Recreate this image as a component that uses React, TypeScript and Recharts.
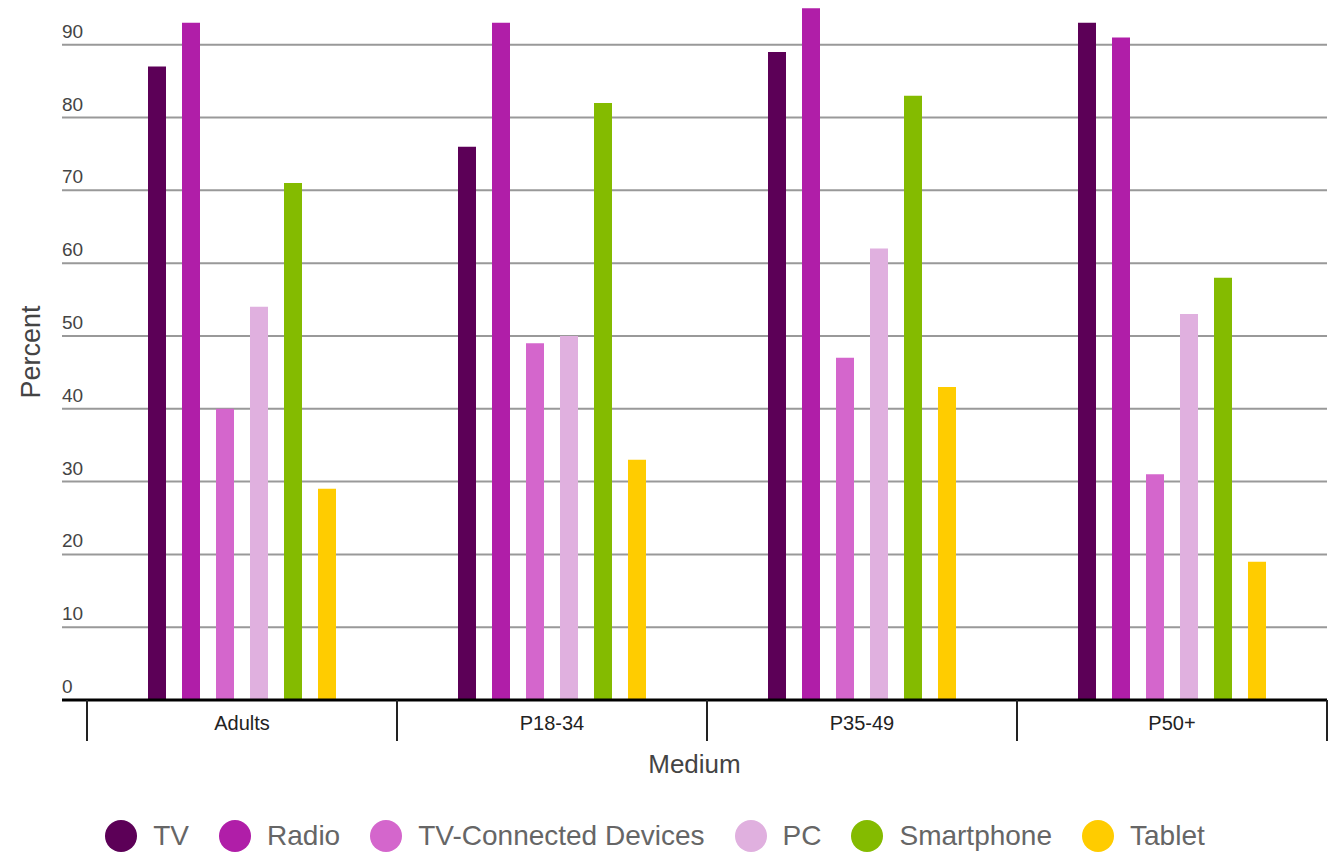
import { BarChart, Bar, XAxis, YAxis, CartesianGrid, Label } from "recharts";

// Categories and series values (percent)
const groups = ["Adults", "P18-34", "P35-49", "P50+"];
const tv = [87, 76, 89, 93];
const radio = [93, 93, 95, 91];
const tvDevices = [40, 49, 47, 31];
const pc = [54, 50, 62, 53];
const smartphone = [71, 82, 83, 58];
const tablet = [29, 33, 43, 19];
const yTicks = [0, 10, 20, 30, 40, 50, 60, 70, 80, 90];
const yMax = 96;

const series = [
  { key: "tv", name: "TV", color: "#5c0057", values: tv },
  { key: "radio", name: "Radio", color: "#b01ea8", values: radio },
  { key: "tvDevices", name: "TV-Connected Devices", color: "#d466cc", values: tvDevices },
  { key: "pc", name: "PC", color: "#e0b0df", values: pc },
  { key: "smartphone", name: "Smartphone", color: "#84bb00", values: smartphone },
  { key: "tablet", name: "Tablet", color: "#ffcc00", values: tablet },
];

const data = groups.map((g, i) => {
  const row: any = { group: g };
  series.forEach((s) => (row[s.key] = s.values[i]));
  return row;
});

const W = 1334;
const H = 857;
const LEFT = 62;
const RIGHT = 7;
const PAD_LEFT = 25;
const FONT = "Arial, 'Liberation Sans', sans-serif";
const bandWidth = (W - LEFT - RIGHT - PAD_LEFT) / groups.length;

// grid rows only at the labelled ticks (no line at the top edge)
function gridRows({ yAxis, offset }: any) {
  if (yAxis && typeof yAxis.scale === "function") return yTicks.map((t) => yAxis.scale(t));
  return yTicks.map((t) => offset.top + offset.height * (1 - t / yMax));
}

function YTick({ x, y, payload }: any) {
  return (
    <text x={x} y={y - 7} textAnchor="start" fontSize={19} fill="#444" fontFamily={FONT}>
      {payload.value}
    </text>
  );
}

function XTick({ x, y, payload, index }: any) {
  const left = x - bandWidth / 2;
  const right = x + bandWidth / 2;
  return (
    <g>
      <line x1={left} x2={left} y1={y} y2={y + 41} stroke="#222" strokeWidth={2} />
      {index === groups.length - 1 && (
        <line x1={right} x2={right} y1={y} y2={y + 41} stroke="#222" strokeWidth={2} />
      )}
      <text x={x} y={y + 30} textAnchor="middle" fontSize={20} fill="#222" fontFamily={FONT}>
        {payload.value}
      </text>
    </g>
  );
}

function PercentLabel() {
  return (
    <text
      x={40}
      y={352}
      transform="rotate(-90 40 352)"
      textAnchor="middle"
      fontSize={27}
      fill="#444"
      fontFamily={FONT}
    >
      Percent
    </text>
  );
}

export default function App() {
  return (
    <div style={{ position: "absolute", left: 0, top: 0, width: W, height: H, background: "#fff" }}>
      <BarChart
        width={W}
        height={H}
        data={data}
        margin={{ top: 1, right: RIGHT, left: 0, bottom: 0 }}
        barSize={18}
        barGap={16}
      >
        <CartesianGrid
          vertical={false}
          stroke="#999"
          strokeWidth={2}
          horizontalCoordinatesGenerator={gridRows}
        />
        <YAxis
          width={LEFT}
          domain={[0, yMax]}
          ticks={yTicks}
          allowDataOverflow
          axisLine={false}
          tickLine={false}
          tickSize={0}
          tickMargin={0}
          tick={<YTick />}
        >
          <Label content={<PercentLabel />} />
        </YAxis>
        <XAxis
          dataKey="group"
          height={157}
          padding={{ left: PAD_LEFT, right: 0 }}
          axisLine={{ stroke: "#000", strokeWidth: 3 }}
          tickLine={false}
          tickSize={0}
          tickMargin={0}
          interval={0}
          tick={<XTick />}
        >
          <Label
            value="Medium"
            position="insideTop"
            offset={55}
            fontSize={26}
            fill="#444"
            fontFamily={FONT}
          />
        </XAxis>
        {series.map((s) => (
          <Bar key={s.key} dataKey={s.key} name={s.name} fill={s.color} isAnimationActive={false} />
        ))}
      </BarChart>
      <div
        style={{
          position: "absolute",
          left: 0,
          top: 820,
          width: 1310,
          height: 32,
          display: "flex",
          justifyContent: "center",
          alignItems: "center",
          fontFamily: FONT,
          fontSize: 28,
          color: "#666",
        }}
      >
        {series.map((s, i) => (
          <div
            key={s.key}
            style={{ display: "flex", alignItems: "center", marginLeft: i === 0 ? 0 : 30 }}
          >
            <span
              style={{
                width: 32,
                height: 32,
                borderRadius: "50%",
                background: s.color,
                display: "inline-block",
                marginRight: 16,
              }}
            />
            <span>{s.name}</span>
          </div>
        ))}
      </div>
    </div>
  );
}
